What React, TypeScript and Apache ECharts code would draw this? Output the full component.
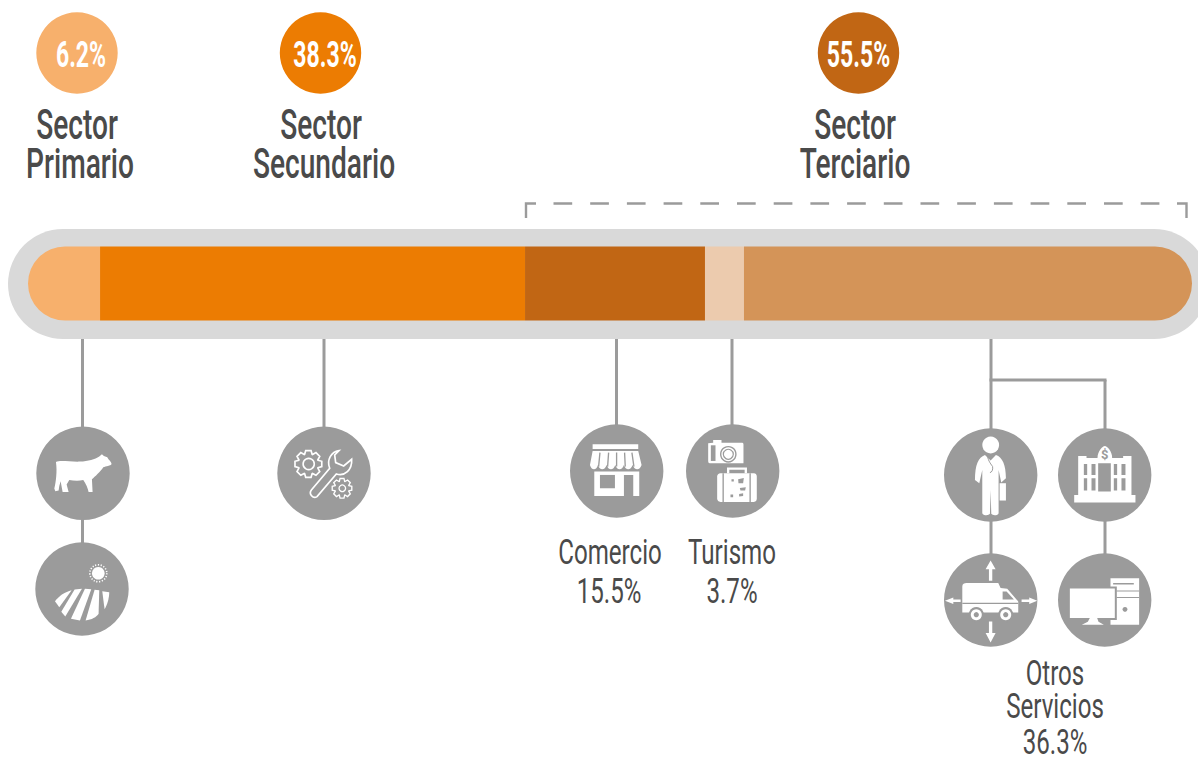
import React, { useEffect, useRef } from "react";
import * as echarts from "echarts";

// Segment names and printed shares
const segmentNames = ["Sector Primario", "Sector Secundario", "Comercio", "Turismo", "Otros Servicios"];
// Widths as drawn in the picture (the drawn bar differs a little from the printed shares)
const drawnWidths = [6.19, 36.51, 15.46, 3.35, 38.49];
const segmentColors = ["#f7b06c", "#ec7c02", "#c16614", "#eccbae", "#d49458"];
const sectorShares = ["6.2%", "38.3%", "55.5%"];
const subShares = ["15.5%", "3.7%", "36.3%"];

const GREY = "#9b9b9b";
const INK = "#4a4a4a";
const FONT = 'Roboto, "Liberation Sans", sans-serif';

function gear(cx: number, cy: number, ro: number, ri: number, n: number) {
  const pts: string[] = [];
  for (let i = 0; i < n; i++) {
    const a = (i / n) * Math.PI * 2;
    const w = Math.PI / n;
    const p = [
      [ri, a - w * 0.95],
      [ro, a - w * 0.5],
      [ro, a + w * 0.5],
      [ri, a + w * 0.95],
    ];
    p.forEach(([r, t]) => pts.push(`${(cx + r * Math.cos(t)).toFixed(1)} ${(cy + r * Math.sin(t)).toFixed(1)}`));
  }
  return "M" + pts.join(" L") + " Z";
}

const SHAPES: Record<string, string> = {
  cow: "M108 156 C120 150 150 156 180 155 C205 155 225 148 238 140 L246 133 L252 138 L262 142 C266 150 275 156 275 162 C272 168 258 168 250 172 C242 185 225 200 216 208 L218 246 L206 246 C204 235 198 222 190 210 C175 214 160 212 148 210 L140 224 L146 246 L128 246 L122 214 L118 228 L116 242 L106 244 L103 236 C108 215 112 185 108 156 Z",
  field1: "M105 574 C118 558 135 546 155 541 L118 592 Z",
  field2: "M164 539 L186 537 L136 620 L124 606 Z",
  field3: "M195 537 L214 538 L180 632 L153 627 Z",
  field4: "M224 540 L238 541 L236 612 C230 622 215 630 197 632 Z",
  field5: "M247 544 L268 547 C268 565 262 585 254 598 Z",
  gearBig: gear(866, 162, 41, 31, 8),
  gearSmall: gear(967, 235, 30, 22, 8),
  wrench: "M958 122 C935 125 920 150 930 175 L875 240 C866 252 880 268 892 260 L950 192 C975 200 998 180 996 148 L972 168 L948 158 L945 135 Z",
  shopTop: "M128 103 L265 103 L265 117 L128 117 Z",
  shopAwning: "M128 123 L265 123 L275 165 C270 182 254 182 248 165 C243 182 227 182 222 165 C217 182 201 182 196 165 C191 182 175 182 170 165 C165 182 149 182 144 165 C140 182 124 182 120 165 Z",
  shopBody: "M133 185 L268 185 L268 258 L250 258 L250 195 L222 195 L222 258 L133 258 Z",
  shopWindow: "M150 195 L195 195 L195 235 L150 235 Z",
  shopLines: "M150 128 L146 170 M176 128 L173 170 M200 128 L200 170 M224 128 L226 170 M246 128 L252 170",
  camera: "M475 100 L490 98 L490 90 L515 90 L515 98 L575 98 C580 98 581 100 581 104 L581 160 L480 160 C475 160 475 155 475 150 Z",
  cameraPanel: "M483 106 L497 106 L497 153 L483 153 Z",
  suitcase: "M512 190 L612 190 C618 190 621 194 621 200 L621 266 C621 272 618 276 612 276 L512 276 C506 276 502 272 502 266 L502 200 C502 194 506 190 512 190 Z",
  suitHandle: "M535 190 L535 176 L588 176 L588 190",
  suitLines: "M520 190 L520 276 M601 190 L601 276",
  suitMarks: "M545 208 L552 208 L552 215 L545 215 Z M565 208 L582 204 L580 220 L566 220 Z M570 234 L588 232 L586 242 L572 242 Z M542 254 L550 254 L550 262 L542 262 Z M568 252 L580 250 L580 258 L568 260 Z",
  doctor: "M165 255 C145 262 135 285 135 330 L148 340 L157 300 L157 430 C160 438 176 438 180 432 L182 360 L184 432 C188 438 204 438 206 430 L206 300 L214 338 L228 325 C228 285 218 262 198 255 L182 272 Z",
  steth: "M172 256 C175 275 185 285 188 290 C190 300 185 308 180 308",
  bag: "M209 340 L228 340 L228 392 L209 392 Z",
  bankDome: "M503 264 C503 244 518 228 525 228 C532 228 547 244 547 264 Z",
  bankBody: "M445 258 L470 258 L470 264 L580 264 L580 258 L605 258 L605 375 L445 375 Z",
  bankBase: "M433 375 L617 375 L617 398 L433 398 Z",
  bankHoles: "M462 282 L472 282 L472 315 L462 315 Z M485 282 L497 282 L497 315 L485 315 Z M552 282 L562 282 L562 315 L552 315 Z M575 282 L587 282 L587 315 L575 315 Z M462 325 L472 325 L472 362 L462 362 Z M485 325 L497 325 L497 362 L485 362 Z M552 325 L562 325 L562 362 L552 362 Z M575 325 L587 325 L587 362 L575 362 Z M505 280 L543 280 L543 365 L505 365 Z",
  van: "M97 650 C97 643 103 640 110 640 L205 640 L212 655 L232 657 L265 695 L265 728 L97 728 Z",
  vanWindow: "M218 665 L230 665 L252 689 L218 689 Z",
  vanStripe: "M97 699 L265 699 L265 703 L97 703 Z",
  arrows: "M182 572 L197 598 L187 598 L187 633 L177 633 L177 598 L167 598 Z M182 818 L167 790 L177 790 L177 755 L187 755 L187 790 L197 790 Z M45 693 L70 683 L70 689 L92 689 L92 697 L70 697 L70 703 Z M322 693 L298 683 L298 689 L275 689 L275 697 L298 697 L298 703 Z",
  tower: "M542 625 L628 625 L628 765 L542 765 Z",
  towerMarks: "M550 640 L612 640 L612 644 L550 644 Z M560 662 L628 662 L628 665 L560 665 Z M560 682 L628 682 L628 685 L560 685 Z",
  monitorGap: "M414 650 L561 650 L561 751 L414 751 Z",
  monitor: "M420 656 L555 656 L555 745 L420 745 Z",
  stand: "M480 745 L502 745 L506 756 L522 765 L456 765 L474 756 Z",
};
Object.entries(SHAPES).forEach(([name, d]) => {
  echarts.graphic.registerShape(name, echarts.graphic.extendPath(d, {}));
});

const W = "#ffffff";

function App() {
  const ref = useRef<HTMLDivElement>(null);

  useEffect(() => {
    const chart = echarts.init(ref.current!, undefined, { renderer: "svg" });

    const fill = (type: string, ox: number, oy: number, color: string) => ({
      type, x: ox, y: oy, scaleX: 1 / 3, scaleY: 1 / 3, style: { fill: color },
    });
    const line = (type: string, ox: number, oy: number, color: string, w: number) => ({
      type, x: ox, y: oy, scaleX: 1 / 3, scaleY: 1 / 3, style: { fill: "none", stroke: color, lineWidth: w },
    });
    const disc = (cx: number, cy: number, r: number, color: string) => ({
      type: "circle", shape: { cx, cy, r }, style: { fill: color },
    });
    const ring = (cx: number, cy: number, r: number, color: string, w: number, dash?: number[]) => ({
      type: "circle", shape: { cx, cy, r }, style: { fill: "none", stroke: color, lineWidth: w, lineDash: dash },
    });
    const seg = (x1: number, y1: number, x2: number, y2: number) => ({
      type: "line", shape: { x1, y1, x2, y2 }, style: { stroke: GREY, lineWidth: 3 },
    });
    const label = (text: string, x: number, y: number, size: number, sx: number, color = INK, weight = "400") => ({
      type: "text", x, y, scaleX: sx,
      style: { text, x: 0, y: 0, fill: color, font: `${weight} ${size}px ${FONT}`, textAlign: "center", textVerticalAlign: "middle" },
    });

    const elements: any[] = [
      // pill
      { type: "rect", shape: { x: 8, y: 229, width: 1201, height: 110, r: 55 }, style: { fill: "#d9d9d9" } },

      // sector discs
      disc(77, 53, 40.7, segmentColors[0]),
      disc(320.5, 53, 40.7, segmentColors[1]),
      disc(858.5, 53, 40.7, segmentColors[2]),
      label(sectorShares[0], 81, 54, 36, 0.64, W, "bold"),
      label(sectorShares[1], 325, 54, 36, 0.64, W, "bold"),
      label(sectorShares[2], 858.5, 54, 36, 0.64, W, "bold"),

      label("Sector", 77, 125, 42, 0.67, INK, "500"),
      label("Primario", 80, 164, 42, 0.67, INK, "500"),
      label("Sector", 321, 125, 42, 0.67, INK, "500"),
      label("Secundario", 324, 164, 42, 0.67, INK, "500"),
      label("Sector", 855, 125, 42, 0.67, INK, "500"),
      label("Terciario", 855, 164, 42, 0.67, INK, "500"),

      // bracket
      { type: "polyline", shape: { points: [[526, 218], [526, 203.5], [536, 203.5]] }, style: { fill: "none", stroke: GREY, lineWidth: 2.4 } },
      { type: "line", shape: { x1: 553.5, y1: 203.5, x2: 1160, y2: 203.5 }, style: { stroke: GREY, lineWidth: 2.4, lineDash: [18.7, 18] } },
      { type: "polyline", shape: { points: [[1177, 203.5], [1186.5, 203.5], [1186.5, 218]] }, style: { fill: "none", stroke: GREY, lineWidth: 2.4 } },

      // connectors
      seg(82.5, 339, 82.5, 560),
      seg(324, 339, 324, 440),
      seg(616.5, 339, 616.5, 440),
      seg(732, 339, 732, 440),
      seg(991, 339, 991, 570),
      seg(1105, 380, 1105, 570),
      seg(989.5, 380, 1106.5, 380),

      // icon discs
      disc(83, 473.3, 46.7, GREY),
      disc(82, 589, 46.7, GREY),
      disc(324, 473.3, 46.7, GREY),
      disc(616.7, 471, 46.7, GREY),
      disc(732.7, 471, 46.7, GREY),
      disc(990.7, 475, 46.7, GREY),
      disc(1104.7, 475, 46.7, GREY),
      disc(990.7, 600, 46.7, GREY),
      disc(1104.7, 600, 46.7, GREY),

      // cow
      fill("cow", 20, 410, W),
      // field
      fill("field1", 20, 410, W),
      fill("field2", 20, 410, W),
      fill("field3", 20, 410, W),
      fill("field4", 20, 410, W),
      fill("field5", 20, 410, W),
      disc(98.3, 573.3, 6.3, W),
      ring(98.3, 573.3, 8.5, W, 1.6, [1.2, 1.6]),
      // tools
      line("gearBig", 20, 410, W, 5),
      ring(308.7, 464, 5.6, W, 1.6),
      line("wrench", 20, 410, W, 5),
      line("gearSmall", 20, 410, W, 4),
      ring(342.3, 488.3, 3.3, W, 1.3),
      // shop
      fill("shopTop", 550, 410, W),
      fill("shopAwning", 550, 410, W),
      line("shopLines", 550, 410, GREY, 4),
      fill("shopBody", 550, 410, W),
      fill("shopWindow", 550, 410, GREY),
      // camera
      fill("camera", 550, 410, W),
      fill("cameraPanel", 550, 410, GREY),
      ring(728.3, 454.3, 7.6, GREY, 1.4),
      ring(728.3, 454.3, 5, GREY, 1.2),
      // suitcase
      fill("suitcase", 550, 410, W),
      line("suitHandle", 550, 410, W, 7),
      line("suitLines", 550, 410, GREY, 4),
      fill("suitMarks", 550, 410, GREY),
      // doctor
      disc(990.7, 445, 8.4, W),
      fill("doctor", 930, 370, W),
      line("steth", 930, 370, GREY, 3),
      fill("bag", 930, 370, W),
      // bank
      fill("bankDome", 930, 370, W),
      fill("bankBody", 930, 370, W),
      fill("bankBase", 930, 370, W),
      fill("bankHoles", 930, 370, GREY),
      label("$", 1104.7, 454, 13, 1, GREY, "bold"),
      // van
      fill("arrows", 930, 370, W),
      fill("van", 930, 370, W),
      fill("vanWindow", 930, 370, GREY),
      fill("vanStripe", 930, 370, GREY),
      disc(976.3, 614.7, 7.6, GREY),
      disc(1005.7, 614.7, 7.6, GREY),
      disc(976.3, 614.7, 5.5, W),
      disc(1005.7, 614.7, 5.5, W),
      disc(976.3, 614.7, 2.6, GREY),
      disc(1005.7, 614.7, 2.6, GREY),
      // computer
      fill("tower", 930, 370, W),
      fill("towerMarks", 930, 370, GREY),
      disc(1125, 609.3, 2.4, GREY),
      fill("monitorGap", 930, 370, GREY),
      fill("monitor", 930, 370, W),
      fill("stand", 930, 370, W),

      // bottom labels
      label("Comercio", 610, 552, 36, 0.67),
      label(subShares[0], 609, 591, 36, 0.67),
      label("Turismo", 732, 552, 36, 0.67),
      label(subShares[1], 732, 591, 36, 0.67),
      label("Otros", 1055, 673, 36, 0.67),
      label("Servicios", 1055, 706, 36, 0.67),
      label(subShares[2], 1055, 742, 36, 0.67),
    ];

    chart.setOption({
      animation: false,
      grid: { left: 28, top: 246.5, width: 1164, height: 74, containLabel: false },
      xAxis: { type: "value", min: 0, max: 100, show: false },
      yAxis: { type: "category", data: ["Estructura"], show: false },
      series: segmentNames.map((name, i) => ({
        name,
        type: "bar",
        stack: "total",
        silent: true,
        barWidth: 74,
        data: [drawnWidths[i]],
        itemStyle: {
          color: segmentColors[i],
          borderRadius: i === 0 ? [37, 0, 0, 37] : i === segmentNames.length - 1 ? [0, 37, 37, 0] : 0,
        },
      })),
      graphic: { elements },
    });

    return () => chart.dispose();
  }, []);

  return (
    <div
      ref={ref}
      style={{ position: "absolute", left: 0, top: 0, width: 1198, height: 757, background: "#fff" }}
    />
  );
}

export default App;
